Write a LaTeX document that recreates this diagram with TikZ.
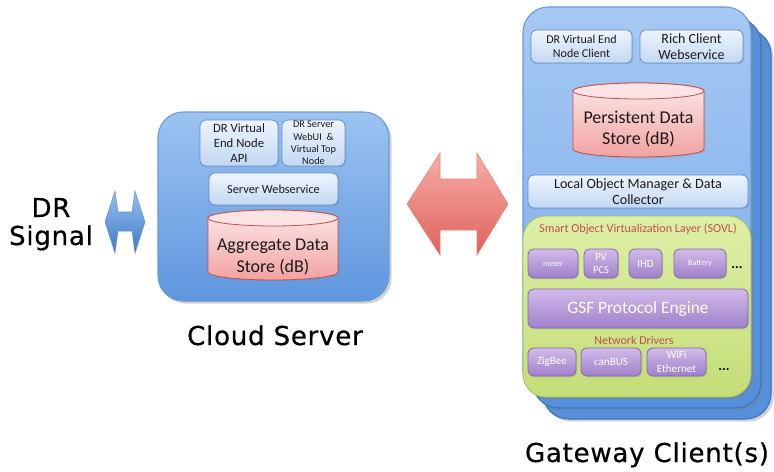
\documentclass[tikz,border=0pt]{standalone}
\usepackage{fontspec}
\setmainfont{Carlito}
\newfontfamily\headfont[LetterSpace=3,FakeBold=0.6]{DejaVu Sans}
\usetikzlibrary{shadows}
\definecolor{cloudtop}{HTML}{9CC3F1}
\definecolor{cloudbot}{HTML}{5E96DE}
\definecolor{cloudline}{HTML}{6A9AD4}
\definecolor{fronttop}{HTML}{A6C9F3}
\definecolor{frontbot}{HTML}{78A9E8}
\definecolor{backblue}{HTML}{5590DC}
\definecolor{backline}{HTML}{3F72B8}
\definecolor{innertop}{HTML}{EEF4FD}
\definecolor{innerbot}{HTML}{C2D8F3}
\definecolor{innerline}{HTML}{6090CC}
\definecolor{cyltop}{HTML}{FCE8E8}
\definecolor{cylbot}{HTML}{F2A2A2}
\definecolor{cylcap}{HTML}{FDE3E3}
\definecolor{cylline}{HTML}{C0504D}
\definecolor{greentop}{HTML}{DDEFA6}
\definecolor{greenbot}{HTML}{C4DE78}
\definecolor{greenline}{HTML}{A4C25C}
\definecolor{purptop}{HTML}{D2BBEA}
\definecolor{purpbot}{HTML}{9E80CA}
\definecolor{purpline}{HTML}{8466AA}
\definecolor{redtext}{HTML}{C0504D}
\definecolor{arrtop}{HTML}{F7AEA8}
\definecolor{arrbot}{HTML}{DE615A}
\definecolor{arrline}{HTML}{E8827C}
\definecolor{smalltop}{HTML}{96C0F0}
\definecolor{smallbot}{HTML}{3E78C8}
\definecolor{textdark}{HTML}{1A1A1A}
\tikzset{
  bigbox/.style={rounded corners=19pt, draw=cloudline, line width=0.8pt,
    top color=cloudtop, bottom color=cloudbot, inner sep=0pt,
    drop shadow={opacity=.35, shadow xshift=2pt, shadow yshift=-2pt}},
  frontbox/.style={bigbox, top color=fronttop, bottom color=frontbot},
  backbox/.style={rounded corners=19pt, draw=backline, line width=0.8pt,
    fill=backblue, inner sep=0pt,
    drop shadow={opacity=.35, shadow xshift=2pt, shadow yshift=-2pt}},
  inbox/.style={rounded corners=4.5pt, draw=innerline, line width=0.6pt,
    top color=innertop, bottom color=innerbot, text=textdark, inner sep=0pt,
    align=center,
    drop shadow={opacity=.25, shadow xshift=1pt, shadow yshift=-1pt}},
  purbox/.style={rounded corners=4.5pt, draw=purpline, line width=0.6pt,
    top color=purptop, bottom color=purpbot, text=white, inner sep=0pt,
    align=center,
    drop shadow={opacity=.25, shadow xshift=1pt, shadow yshift=-1pt}},
  greenbox/.style={rounded corners=17pt, draw=greenline, line width=0.6pt,
    top color=greentop, bottom color=greenbot, inner sep=0pt,
    drop shadow={opacity=.3, shadow xshift=1.5pt, shadow yshift=-1.5pt}},
  cylbody/.style={draw=cylline, line width=0.6pt, top color=cyltop, bottom color=cylbot,
    drop shadow={opacity=.25, shadow xshift=1pt, shadow yshift=-1pt}},
  cylend/.style={draw=cylline, line width=0.6pt, fill=cylcap},
  cyltext/.style={align=center, text=textdark, inner sep=0pt,
    font=\fontsize{13.5}{16}\selectfont},
  headtxt/.style={font=\headfont\fontsize{19.5}{21}\selectfont, anchor=base, text=black},
  redlbl/.style={text=redtext, inner sep=0pt},
  dotlbl/.style={font=\bfseries\fontsize{10.5}{10}\selectfont, inner sep=0pt},
}
% name, style, x1, y1, x2, y2, text
\newcommand\pbox[7]{%
  \pgfmathsetmacro\bxw{(#5-#3)*0.75}%
  \pgfmathsetmacro\bxh{(#6-#4)*0.75}%
  \pgfmathsetmacro\bxx{(#3+#5)/2}%
  \pgfmathsetmacro\bxy{(#4+#6)/2}%
  \node[#2, minimum width=\bxw pt, minimum height=\bxh pt] (#1) at (\bxx,\bxy) {#7};%
}
% name, x1, x2, top-centre y, bottom-centre y, text y, text
\newcommand\dbcyl[7]{%
  \pgfmathsetmacro\cylrx{(#3-#2)/2*0.75}%
  \pgfmathsetmacro\cylmid{(#3+#2)/2}%
  \path[cylbody] (#2,#4) -- (#2,#5)
     arc[start angle=180, end angle=360, x radius=\cylrx pt, y radius=6pt]
     -- (#3,#4)
     arc[start angle=0, end angle=180, x radius=\cylrx pt, y radius=6pt] -- cycle;
  \path[cylend] (\cylmid,#4) ellipse [x radius=\cylrx pt, y radius=6pt];
  \node[cyltext] (#1) at (\cylmid,#6) {#7};%
}
\begin{document}
\begin{tikzpicture}[x=0.75pt, y=-0.75pt]
\useasboundingbox (0,0) rectangle (774,471);
\fill[white] (0,0) rectangle (774,471);

% DR signal
\node[headtxt] (dr) at (51,217) {DR};
\node[headtxt] (signal) at (51,245) {Signal};
\path[top color=smalltop, bottom color=smallbot, draw=smallbot!80, line width=0.4pt]
  (105,222) -- (115,191) -- (118,212) -- (132,212) -- (135,191) -- (145,222)
  -- (135,253) -- (132,231) -- (118,231) -- (115,253) -- cycle;

% Cloud server
\pbox{cloud}{bigbox}{158}{112}{389}{301}{}
\pbox{api}{inbox, font=\fontsize{9.5}{11.4}\selectfont}{200}{120}{278}{166}
  {DR Virtual\\End Node\\API}
\pbox{webui}{inbox, font=\fontsize{7.7}{9.2}\selectfont}{282}{120}{345}{166}
  {DR Server\\WebUI~~\&\\Virtual Top\\Node}
\pbox{sws}{inbox, font=\fontsize{9.2}{11}\selectfont}{209}{173}{338}{205}
  {Server Webservice}
\dbcyl{agg}{208}{338}{218}{272}{257}{Aggregate Data\\Store (dB)}
\node[headtxt] (cloudlbl) at (275,345) {Cloud Server};

% Big red double arrow
\path[top color=arrtop, bottom color=arrbot, draw=arrline, line width=0.4pt]
  (407,204) -- (440,153) -- (440,179) -- (477,179) -- (477,153) -- (508,204)
  -- (477,255) -- (477,230) -- (440,230) -- (440,255) -- cycle;

% Gateway clients
\pbox{gw3}{backbox}{543}{29}{771}{419}{}
\pbox{gw2}{backbox}{533}{18}{761}{408}{}
\pbox{gw1}{frontbox}{523}{7}{751}{397}{}
\pbox{vend}{inbox, font=\fontsize{9}{10.5}\selectfont}{531}{30}{632}{63}
  {DR Virtual End\\Node Client}
\pbox{rich}{inbox, font=\fontsize{10.5}{12}\selectfont}{640}{30}{743}{63}
  {Rich Client\\Webservice}
\dbcyl{pers}{573}{704}{91}{149}{129}{Persistent Data\\Store (dB)}
\pbox{lom}{inbox, font=\fontsize{10.6}{12}\selectfont}{528}{175}{748}{208}
  {Local Object Manager \& Data\\Collector}
\pbox{sovl}{greenbox}{523}{216}{751}{397}{}
\node[redlbl, font=\fontsize{9.1}{10}\selectfont] (sovllbl) at (638,229)
  {Smart Object Virtualization Layer (SOVL)};
\pbox{meter}{purbox, font=\fontsize{6}{7}\selectfont}{528}{249}{578}{278}{meter}
\pbox{pv}{purbox, font=\fontsize{7.9}{9.5}\selectfont}{584}{249}{618}{278}{PV\\PCS}
\pbox{ihd}{purbox, font=\fontsize{8.3}{9}\selectfont}{629}{249}{662}{278}{IHD}
\pbox{batt}{purbox, font=\fontsize{6}{7}\selectfont}{674}{249}{726}{278}{Battery}
\node[dotlbl] (dots1) at (737,268) {...};
\pbox{gsf}{purbox, font=\fontsize{13}{15}\selectfont}{528}{289}{748}{328}
  {GSF Protocol Engine}
\node[redlbl, font=\fontsize{9}{10}\selectfont] (ndlbl) at (634,340) {Network Drivers};
\pbox{zig}{purbox, font=\fontsize{8.3}{9.5}\selectfont}{528}{348}{576}{376}{ZigBee}
\pbox{can}{purbox, font=\fontsize{8.3}{9.5}\selectfont}{581}{348}{641}{376}{canBUS}
\pbox{wifi}{purbox, font=\fontsize{8.3}{10.5}\selectfont}{647}{348}{706}{376}{WiFi\\Ethernet}
\node[dotlbl] (dots2) at (724,370) {...};
\node[headtxt] (gwlbl) at (647,462) {Gateway Client(s)};
\end{tikzpicture}
\end{document}
